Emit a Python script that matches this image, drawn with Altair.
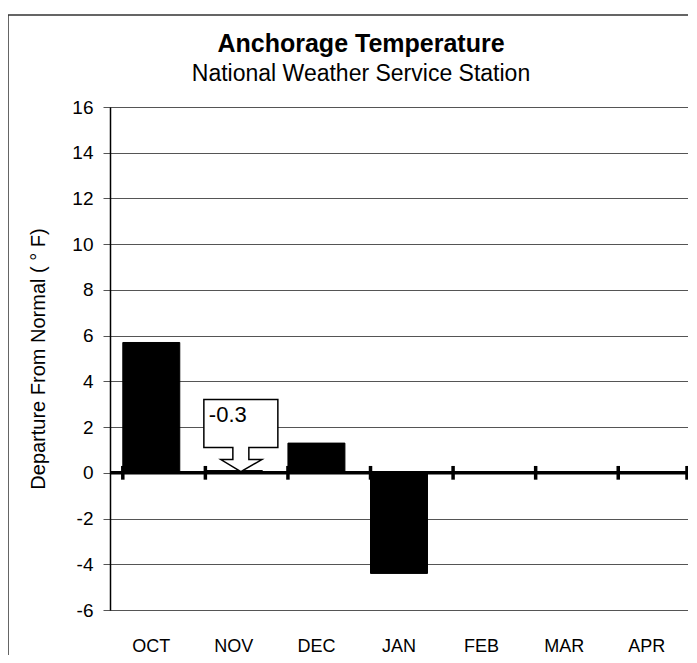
import altair as alt
import pandas as pd

months = ["OCT", "NOV", "DEC", "JAN", "FEB", "MAR", "APR"]
departure = [5.7, 0.1, 1.3, -4.4, None, None, None]
callout_month = ["NOV"]
callout_text = ["-0.3"]

FONT = "Liberation Sans"

df = pd.DataFrame({"month": months, "dep": departure})
bars_df = df.dropna()
call_df = pd.DataFrame({"month": callout_month, "label": callout_text,
                        "dep": [bars_df.set_index("month").loc[m, "dep"] for m in callout_month]})

W, H = 578, 503

xscale = alt.Scale(domain=months, paddingInner=0.31, paddingOuter=0.155)
yscale = alt.Scale(domain=[-6, 16], nice=False)

x_enc = alt.X("month:N", scale=xscale, sort=months, title=None,
              axis=alt.Axis(ticks=False, domain=False, grid=False, labelAngle=0,
                            labelPadding=27, labelFontSize=18, labelFont=FONT,
                            labelColor="black", labelFontWeight="normal"))
y_enc = alt.Y("dep:Q", scale=yscale, title="Departure From Normal ( ° F)",
              axis=alt.Axis(values=list(range(-6, 17, 2)), grid=True, gridColor="#555555",
                            labelExpr="'' + datum.value",
                            gridWidth=1, domainColor="black", domainWidth=1.5,
                            tickColor="#555555", tickSize=7, tickWidth=1,
                            labelPadding=10, labelFontSize=19, labelFont=FONT,
                            labelColor="black", titleFont=FONT, titleFontSize=20,
                            titleFontWeight="normal", titleColor="black",
                            titleX=-62, titleY=H / 2))

base = alt.Chart(bars_df)

frame = alt.Chart(pd.DataFrame({"k": [0]})).mark_rect(
    fill=None, stroke="#333333", strokeWidth=1.5, fillOpacity=0
).encode(x=alt.value(-102), x2=alt.value(800), y=alt.value(-92), y2=alt.value(800))

bars = base.mark_bar(color="black", stroke="black", strokeWidth=1).encode(
    x=x_enc, y=y_enc, y2=alt.datum(0)
)

zero_line = alt.Chart(pd.DataFrame({"k": [0]})).mark_rule(
    color="black", strokeWidth=3.5
).encode(x=alt.value(0), x2=alt.value(W), y=alt.datum(0, type="quantitative"))

bticks = alt.Chart(df).mark_rule(color="black", strokeWidth=3.5).encode(
    x=alt.X("month:N", scale=xscale, sort=months, bandPosition=0),
    y=alt.datum(-0.3), y2=alt.datum(0.3)
)
end_tick = alt.Chart(pd.DataFrame({"k": [0]})).mark_rule(color="black", strokeWidth=3.5).encode(
    x=alt.value(W - 1), y=alt.datum(-0.3), y2=alt.datum(0.3)
)

callout_path = ("M -30 -71 L 44 -71 L 44 -23 L 15 -23 L 15 -11 L 28 -11 "
                "L 7 1 L -13 -11 L -1 -11 L -1 -23 L -30 -23 Z")
callout = alt.Chart(call_df).mark_point(
    shape=callout_path, size=4, filled=True, fill="white", stroke="black",
    strokeWidth=1.5, opacity=1
).encode(x=alt.X("month:N", scale=xscale, sort=months), y=alt.Y("dep:Q", scale=yscale))

callout_label = alt.Chart(call_df).mark_text(
    align="left", baseline="middle", dx=-25, dy=-56, fontSize=22, font=FONT,
    color="black"
).encode(x=alt.X("month:N", scale=xscale, sort=months), y=alt.Y("dep:Q", scale=yscale),
         text="label:N")

chart = alt.layer(frame, bars, zero_line, bticks, end_tick, callout, callout_label).properties(
    width=W, height=H,
    title=alt.TitleParams(
        text="Anchorage Temperature", subtitle="National Weather Service Station",
        fontSize=25, fontWeight="bold", font=FONT, color="black",
        subtitleFontSize=23, subtitleFont=FONT, subtitleColor="black",
        subtitlePadding=6, anchor="middle", dx=-38, dy=72, offset=0, frame="group"
    ),
    autosize=alt.AutoSizeParams(type="none"),
    padding={"left": 102, "top": 99, "right": 0, "bottom": 45},
).configure_view(stroke="black", strokeWidth=1).configure_axis(labelFont=FONT, titleFont=FONT)

chart.save("out.html", embed_options={"renderer": "svg", "actions": False})
